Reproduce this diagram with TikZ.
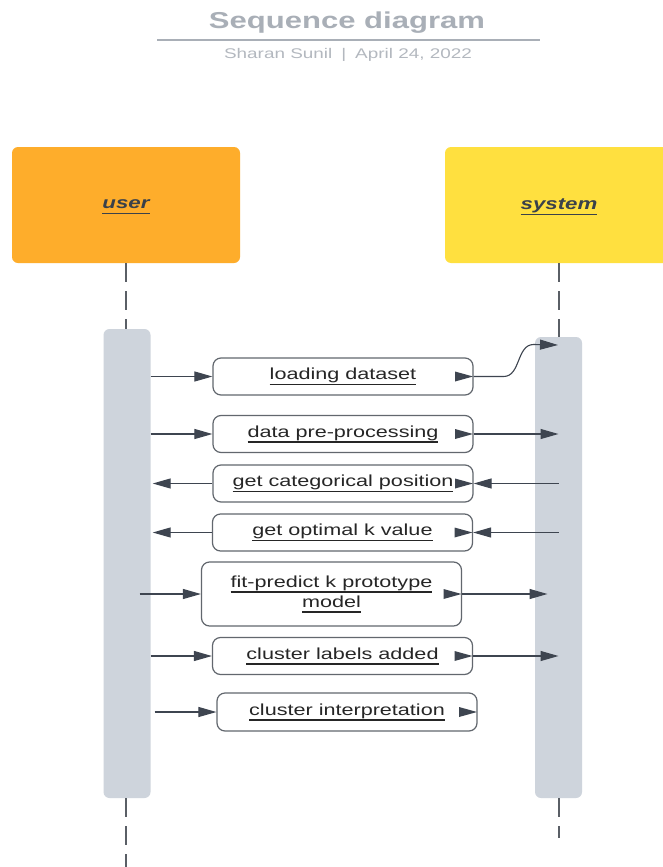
\documentclass[tikz,border=0pt]{standalone}
\usepackage{fontspec}
\setmainfont{Liberation Sans}[FakeStretch=1.35]
\usepackage{xcolor}
\usepackage{tikz}
\usetikzlibrary{arrows.meta}

\definecolor{titlegray}{HTML}{A9AFB7}
\definecolor{subgray}{HTML}{B3B8BF}
\definecolor{userfill}{HTML}{FEAD2B}
\definecolor{sysfill}{HTML}{FFE03F}
\definecolor{actfill}{HTML}{CED4DC}
\definecolor{ink}{HTML}{3E4550}
\definecolor{actortxt}{HTML}{3A414A}
\definecolor{boxline}{HTML}{62676E}
\definecolor{lifeln}{HTML}{5A5F66}

% underline a bit below the descenders
\newcommand\ulin[1]{\leavevmode\setbox0\hbox{#1}\dp0=0pt\vtop{\box0\kern0.27em\hrule height1.1pt}}

\begin{document}
\begin{tikzpicture}[x=1pt, y=-1pt,
  actor/.style={rounded corners=6pt, minimum width=228pt, minimum height=116pt, fill=#1, text depth=2pt,
                font=\fontsize{16.5}{19}\selectfont\bfseries\itshape, text=actortxt},
  act/.style={fill=actfill, rounded corners=6pt, minimum width=47pt, minimum height=#1},
  msgbox/.style={draw=boxline, line width=1.2pt, rounded corners=8pt, fill=white,
                 minimum width=260pt, minimum height=#1, align=center, text=black!85,
                 font=\fontsize{16}{20}\selectfont,
                 path picture={\fill[ink, sharp corners] (path picture bounding box.east) -- ++(-18pt,5pt) -- ++(0pt,-10pt) -- cycle;}},
  msgbox/.default=37pt,
  life/.style={draw=lifeln, line width=1.2pt, dash pattern=on 19pt off 9pt},
  arr/.style={draw=ink, line width=1.1pt, -{Triangle[length=18pt,width=10pt]}}
]
  \useasboundingbox[fill=white] (0,0) rectangle (662,867);

  % Header
  \node[font=\fontsize{23}{26}\selectfont\bfseries, text=titlegray] (title) at (347,22.5) {Sequence diagram};
  \draw[titlegray, line width=1.5pt] (157,40) -- (540,40);
  \node[font=\fontsize{14}{16}\selectfont, text=subgray] (sub) at (348,55)
    {Sharan Sunil\hspace{9pt}|\hspace{9pt}April 24, 2022};

  % Actors and activations
  \node[actor=userfill] (user) at (126,205) {\ulin{user}};
  \node[actor=sysfill] (system) at (559,205) {\ulin{system}};
  \node[act=469pt] (uact) at (127,563.5) {};
  \node[act=461pt] (sact) at (558.5,567.5) {};
  \coordinate (uend) at (126,867);
  \coordinate (send) at (559,838);

  % Lifelines
  \draw[life] (user.south) -- (user.south |- uact.north);
  \draw[life] (user.south |- uact.south) -- (uend);
  \draw[life] (system.south) -- (system.south |- sact.north);
  \draw[life] (system.south |- sact.south) -- (send);

  % Messages
  \node[msgbox] (b1) at (343,376.5) {\ulin{loading dataset}};
  \node[msgbox] (b2) at (343,434) {\ulin{data pre-processing}};
  \node[msgbox] (b3) at (343,483.5) {\ulin{get categorical position}};
  \node[msgbox] (b4) at (342.5,532.5) {\ulin{get optimal k value}};
  \node[msgbox=64pt] (b5) at (331.5,594) {\ulin{fit-predict k prototype}\\\ulin{model}};
  \node[msgbox] (b6) at (342.5,656) {\ulin{cluster labels added}};
  \node[msgbox=38pt] (b7) at (347,712) {\ulin{cluster interpretation}};

  % Calls from the user
  \coordinate (s1) at (558,345);
  \draw[arr] (uact.east |- b1) -- (b1.west);
  \draw[arr] (b1.east) -- ++(30,0) to[out=0,in=180] ++(30,-32) -- (s1);
  \draw[arr] (uact.east |- b2) -- (b2.west);
  \draw[arr] (b2.east) -- (sact |- b2);
  \draw[arr, shorten <=-11pt] (uact.east |- b5) -- (b5.west);
  \draw[arr, shorten >=11pt] (b5.east) -- (sact |- b5);
  \draw[arr] (uact.east |- b6) -- (b6.west);
  \draw[arr] (b6.east) -- (sact |- b6);
  \draw[arr, shorten <=4pt] (uact.east |- b7) -- (b7.west);

  % Replies from the system
  \draw[arr] (sact |- b3) -- (b3.east);
  \draw[arr, shorten >=2pt] (b3.west) -- (uact.east |- b3);
  \draw[arr] (sact |- b4) -- (b4.east);
  \draw[arr, shorten >=2pt] (b4.west) -- (uact.east |- b4);
\end{tikzpicture}
\end{document}
